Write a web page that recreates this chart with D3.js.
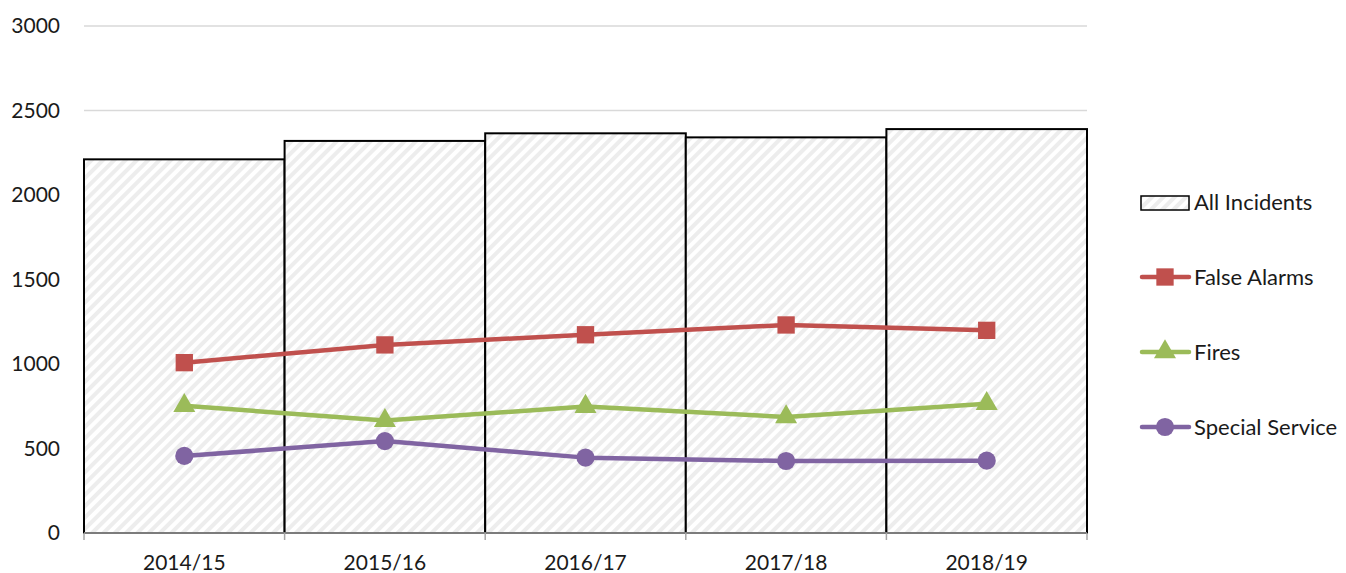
<html>
<head>
<script src="https://d3js.org/d3.v7.min.js"></script>
<style>
  body { margin: 0; background: white; }
  text { font-family: Lato, "Open Sans", sans-serif; fill: #1a1a1a; }
</style>
</head>
<body>
<svg width="1346" height="573"></svg>
<script>
var years = ["2014/15", "2015/16", "2016/17", "2017/18", "2018/19"];
var allIncidents = [2211, 2320, 2365, 2341, 2390];
var falseAlarms = [1008, 1113, 1173, 1231, 1199];
var fires = [753, 665, 748, 687, 765];
var specialService = [456, 544, 446, 426, 428];
var yTicks = [0, 500, 1000, 1500, 2000, 2500, 3000];

var svg = d3.select("svg");
var plotL = 84, plotR = 1087, plotT = 26, plotB = 533;

var x = d3.scaleBand().domain(years).range([plotL, plotR]).padding(0);
var y = d3.scaleLinear().domain([0, 3000]).range([plotB, plotT]);

// hatch pattern
var pat = svg.append("defs").append("pattern")
  .attr("id", "hatch").attr("patternUnits", "userSpaceOnUse")
  .attr("width", 8).attr("height", 8)
  .attr("patternTransform", "rotate(45)");
pat.append("rect").attr("width", 8).attr("height", 8).attr("fill", "white");
pat.append("rect").attr("width", 4).attr("height", 8).attr("fill", "#ededed");

// gridlines
svg.append("g").selectAll("line").data(yTicks.filter(function(d){ return d > 0; })).enter()
  .append("line")
  .attr("x1", plotL).attr("x2", plotR)
  .attr("y1", function(d){ return y(d); }).attr("y2", function(d){ return y(d); })
  .attr("stroke", "#d9d9d9").attr("stroke-width", 1.5);

// y labels
svg.append("g").selectAll("text").data(yTicks).enter().append("text")
  .attr("x", 60).attr("y", function(d){ return y(d) + 7; })
  .attr("text-anchor", "end").style("font-size", "21px")
  .text(function(d){ return d; });

// bars
svg.append("g").selectAll("rect").data(allIncidents).enter().append("rect")
  .attr("x", function(d, i){ return x(years[i]); })
  .attr("y", function(d){ return y(d); })
  .attr("width", x.bandwidth())
  .attr("height", function(d){ return plotB - y(d); })
  .attr("fill", "url(#hatch)")
  .attr("stroke", "black").attr("stroke-width", 2);

// x axis
var xAxis = svg.append("g");
xAxis.append("line").attr("x1", plotL).attr("x2", plotR).attr("y1", plotB).attr("y2", plotB)
  .attr("stroke", "#a6a6a6").attr("stroke-width", 1.5);
var edges = years.map(function(d){ return x(d); }).concat([plotR]);
xAxis.selectAll("line.tick").data(edges).enter().append("line").attr("class", "tick")
  .attr("x1", function(d){ return d; }).attr("x2", function(d){ return d; })
  .attr("y1", plotB).attr("y2", plotB + 7)
  .attr("stroke", "#a6a6a6").attr("stroke-width", 1.5);
xAxis.selectAll("text").data(years).enter().append("text")
  .attr("x", function(d){ return x(d) + x.bandwidth() / 2; })
  .attr("y", 570).attr("text-anchor", "middle").style("font-size", "21px")
  .text(function(d){ return d; });

var series = [
  { name: "False Alarms", values: falseAlarms, color: "#c0504d", shape: d3.symbolSquare, size: 300 },
  { name: "Fires", values: fires, color: "#9bbb59", shape: d3.symbolTriangle, size: 210 },
  { name: "Special Service", values: specialService, color: "#8064a2", shape: d3.symbolCircle, size: 260 }
];

var line = d3.line()
  .x(function(d, i){ return x(years[i]) + x.bandwidth() / 2; })
  .y(function(d){ return y(d); });

series.forEach(function(s){
  svg.append("path").datum(s.values).attr("d", line)
    .attr("fill", "none").attr("stroke", s.color).attr("stroke-width", 4.5)
    .attr("stroke-linejoin", "round").attr("stroke-linecap", "round");
  svg.append("g").selectAll("path").data(s.values).enter().append("path")
    .attr("d", d3.symbol().type(s.shape).size(s.size))
    .attr("transform", function(d, i){
      return "translate(" + (x(years[i]) + x.bandwidth() / 2) + "," + y(d) + ")";
    })
    .attr("fill", s.color);
});

// legend
var lg = svg.append("g");
lg.append("rect").attr("x", 1141).attr("y", 196).attr("width", 48).attr("height", 14)
  .attr("fill", "url(#hatch)").attr("stroke", "black").attr("stroke-width", 1.5);
lg.append("text").attr("x", 1194).attr("y", 210).style("font-size", "22px").text("All Incidents");
series.forEach(function(s, i){
  var ly = 277 + i * 75;
  lg.append("line").attr("x1", 1142).attr("x2", 1189).attr("y1", ly).attr("y2", ly)
    .attr("stroke", s.color).attr("stroke-width", 4.5).attr("stroke-linecap", "round");
  lg.append("path").attr("d", d3.symbol().type(s.shape).size(s.size))
    .attr("transform", "translate(1165," + ly + ")").attr("fill", s.color);
  lg.append("text").attr("x", 1194).attr("y", ly + 8).style("font-size", "22px").text(s.name);
});
</script>
</body>
</html>
